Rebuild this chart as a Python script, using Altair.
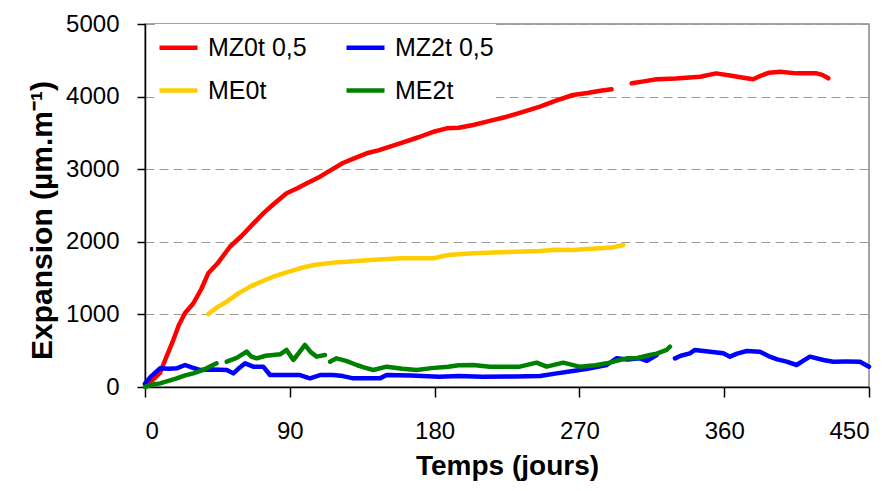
import altair as alt
import pandas as pd

# ---- data (None marks a gap in the recorded series) ----
series_names = ["MZ0t 0,5", "MZ2t 0,5", "ME0t", "ME2t"]
series_colors = ["#FF0000", "#0000FF", "#FFCC00", "#008000"]

mz0t_days = [0, 5, 9.3, 13, 17.6, 21, 24.9, 30, 35, 39.3, 45, 52.8, 60, 66, 73.5, 80, 88, 95, 100,
             108.8, 115, 123, 130, 137.8, 145, 158.5, 170, 180, 187.5, 195, 204, 215, 224.8, 235,
             245.5, 255, 266, 275, 283, 290, None,
             302.5, 310, 318, 330, 345, 355, 365.5, 372, 378, 383, 388, 394.7, 405, 417.4, 421, 424.7]
mz0t_vals = [30, 100, 193, 400, 647, 850, 1019, 1150, 1350, 1566, 1700, 1932, 2080, 2220, 2392, 2520,
             2668, 2740, 2800, 2897, 2980, 3085, 3150, 3219, 3260, 3356, 3440, 3520, 3563, 3570, 3609,
             3670, 3723, 3790, 3861, 3940, 4022, 4050, 4080, 4100, None,
             4183, 4210, 4238, 4250, 4274, 4320, 4284, 4260, 4238, 4290, 4330, 4343, 4320, 4320, 4300, 4252]

mz2t_days = [0, 4, 9.3, 15, 19.7, 24.9, 29, 34, 42, 50.8, 54.9, 58, 62.2, 67.3, 73.5, 77.7, 88, 96.3,
             102.5, 108.8, 117, 123, 129.5, 140, 146, 150.2, 165, 183, 195, 210, 230, 245.5, 255.9,
             266, 275, 287, 293, 300, 307.6, 312, 318, None,
             329.4, 333, 338.7, 341.8, 350, 359.4, 363.6, 368, 374, 382.2, 388.4, 393, 398.8, 405,
             409, 413.3, 421.6, 427.8, 436, 444.4, 450]
mz2t_vals = [50, 150, 257, 250, 257, 303, 270, 234, 240, 234, 188, 250, 326, 280, 280, 165, 165, 165,
             119, 165, 165, 150, 119, 119, 119, 165, 160, 142, 150, 142, 145, 152, 188,
             220, 250, 303, 395, 380, 395, 360, 441, None,
             395, 430, 464, 510, 490, 464, 418, 460, 496, 487, 418, 380, 349, 303,
             360, 418, 372, 349, 350, 349, 280]

me0t_days = [39.3, 45, 50.8, 58, 65.3, 72, 79.7, 88, 96.3, 105, 113, 120, 125.4, 140, 158.5, 179,
             188.5, 195, 204, 225, 245.5, 255, 266, 275, 282.8, 290, 297.3]
me0t_vals = [1005, 1100, 1175, 1290, 1382, 1450, 1519, 1580, 1635, 1680, 1703, 1720, 1726, 1750, 1772,
             1772, 1818, 1830, 1841, 1860, 1873, 1890, 1887, 1900, 1910, 1920, 1956]

me2t_days = [0, 4, 9.3, 14, 19.7, 25, 30, 34, 38.3, 41, 44.5, None,
             50.8, 57, 63.2, 66, 69.4, 75, 79.7, 84, 88, 92.2, 96, 99.4, 103, 106.7, 111.9, None,
             115, 119, 125, 131.6, 136, 141.9, 150.2, 160, 168.9, 178, 188.5, 195, 204, 214.4, 225,
             233, 243.4, 249.7, 260, 270, 280, 287, 293, 299.4, 306, 313.9, 318, 324.2, 326.3]
me2t_vals = [0, 30, 50, 80, 119, 160, 188, 220, 257, 290, 326, None,
             349, 400, 487, 420, 395, 430, 441, 450, 510, 372, 480, 579, 480, 418, 441, None,
             349, 395, 360, 303, 270, 234, 280, 250, 234, 260, 280, 300, 303, 280, 280,
             280, 335, 280, 335, 280, 300, 326, 360, 395, 400, 441, 460, 510, 555]

x_ticks = [0, 90, 180, 270, 360, 450]
y_ticks = [0, 1000, 2000, 3000, 4000, 5000]


def to_frame(name, days, vals):
    rows, seg, i = [], 0, 0
    for d, v in zip(days, vals):
        if d is None:
            seg += 1
            continue
        rows.append({"series": name, "seg": f"{name}-{seg}", "day": d, "value": v, "i": i})
        i += 1
    return pd.DataFrame(rows)


frames = [
    to_frame("MZ0t 0,5", mz0t_days, mz0t_vals),
    to_frame("ME0t", me0t_days, me0t_vals),
    to_frame("MZ2t 0,5", mz2t_days, mz2t_vals),
    to_frame("ME2t", me2t_days, me2t_vals),
]

color_scale = alt.Scale(domain=series_names, range=series_colors)

x_enc = alt.X(
    "day:Q",
    scale=alt.Scale(domain=[0, 450], nice=False),
    axis=alt.Axis(
        values=x_ticks, title="Temps (jours)", grid=False, tickSize=10,
        labelPadding=22, titlePadding=9, titleFontSize=28, format="d",
    ),
)
y_enc = alt.Y(
    "value:Q",
    scale=alt.Scale(domain=[0, 5000], nice=False),
    axis=alt.Axis(
        values=y_ticks, title="Expansion (µm.m⁻¹)", grid=True, tickSize=8,
        labelPadding=18, titlePadding=8, titleFontSize=30, format="d", titleY=196,
        gridDash=[9, 5], gridColor="#9a9a9a", gridWidth=1.2,
    ),
)

layers = []
for idx, df in enumerate(frames):
    enc = dict(
        x=x_enc if idx == 0 else alt.X("day:Q"),
        y=y_enc if idx == 0 else alt.Y("value:Q"),
        color=alt.Color(
            "series:N", scale=color_scale,
            legend=alt.Legend(
                title=None, orient="none", legendX=10, legendY=0, columns=2,
                direction="horizontal",
                symbolType="stroke", symbolSize=1444, symbolStrokeWidth=4.5,
                labelFontSize=25, labelFont="Liberation Sans", labelColor="black",
                labelOffset=8, columnPadding=30, rowPadding=8, padding=2,
                fillColor="white", symbolOpacity=1,
            ),
        ),
        detail="seg:N",
        order="i:Q",
    )
    layers.append(
        alt.Chart(df).mark_line(strokeWidth=4.5, strokeJoin="round", strokeCap="round").encode(**enc)
    )

chart = (
    alt.layer(*layers)
    .properties(
        width=724, height=363, autosize="none", background="white",
        padding={"left": 137, "top": 16, "right": 18, "bottom": 96},
    )
    .configure_view(stroke="#888888", strokeWidth=1.5)
    .configure_axis(
        labelFont="Liberation Sans", labelFontSize=24, labelColor="black",
        titleFont="Liberation Sans", titleFontWeight="bold", titleColor="black",
        domainColor="black", domainWidth=1.5, tickColor="black", tickWidth=1.5,
    )
)

chart.save("out.html", embed_options={"renderer": "svg", "actions": False})
